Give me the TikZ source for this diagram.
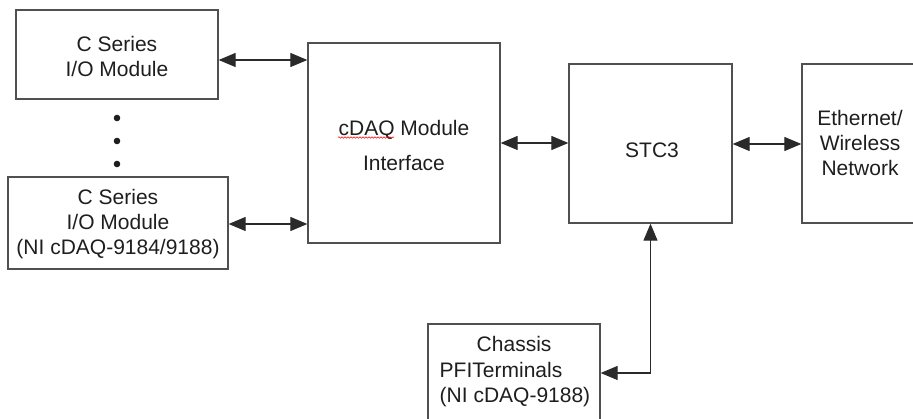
\documentclass[tikz,border=0pt]{standalone}
\usepackage{fontspec}
\setmainfont{Liberation Sans}
\usetikzlibrary{arrows.meta,decorations.pathmorphing,calc}
\definecolor{boxc}{HTML}{505050}
\definecolor{txtc}{HTML}{1E1E1E}
\definecolor{arrc}{HTML}{2A2A2A}
\begin{document}
\begin{tikzpicture}[x=1pt,y=-1pt,
  blk/.style={draw=boxc, line width=1.3pt, rectangle, inner sep=0pt},
  lbl/.style={text=txtc, font=\fontsize{21}{25}\selectfont, align=center, inner sep=0pt},
  link/.style={draw=arrc, line width=1.2pt, {Triangle[length=17pt,width=14pt]}-{Triangle[length=17pt,width=14pt]}}]
\useasboundingbox (0,0) rectangle (913,419);
\clip (0,0) rectangle (913,419);
% boxes
\node[blk, minimum width=202pt, minimum height=89pt] (box1) at (117,54.5) {};
\node[blk, minimum width=220pt, minimum height=92pt] (box2) at (118,223) {};
\node[blk, minimum width=192pt, minimum height=200pt] (cdaq) at (404,143) {};
\node[blk, minimum width=163pt, minimum height=159pt] (stc) at (650.5,143.5) {};
\node[blk, minimum width=116pt, minimum height=159pt] (eth) at (860,143.5) {};
\node[blk, minimum width=172pt, minimum height=116pt] (chassis) at (514,382) {};
% labels
\node[lbl] (t1) at (117,56.5) {C Series\\I/O Module};
\node[lbl] (t2) at (118,224) {C Series\\I/O Module\\(NI cDAQ-9184/9188)};
\node[lbl, font=\fontsize{21}{35}\selectfont] (t3) at (404,145) {cDAQ Module\\Interface};
\node[lbl] (t4) at (652,150.5) {STC3};
\node[lbl] (t5) at (860,142.5) {Ethernet/\\Wireless\\Network};
\node[lbl, align=left, font=\fontsize{21}{25.5}\selectfont] (t6) at (515,372) {\hspace*{37pt}Chassis\\PFITerminals\\(NI cDAQ-9188)};
% spell-check squiggle
\draw[red, line width=0.5pt, decorate, decoration={snake, amplitude=0.8pt, segment length=3pt}] (338,137.5) -- (394,137.5);
% dots
\fill[txtc] (117,118) circle (3.3pt);
\fill[txtc] (117,141) circle (3.3pt);
\fill[txtc] (117,164) circle (3.3pt);
% connectors
\draw[link] (box1.east |- 0,60) -- (cdaq.west |- 0,60);
\draw[link] (box2.east |- 0,224) -- (cdaq.west |- 0,224);
\draw[link] (cdaq.east |- 0,143) -- (stc.west |- 0,143);
\draw[link] (stc.east |- 0,144) -- (eth.west |- 0,144);
\draw[link] (chassis.east |- 0,373) -| (stc.south);
\end{tikzpicture}
\end{document}
